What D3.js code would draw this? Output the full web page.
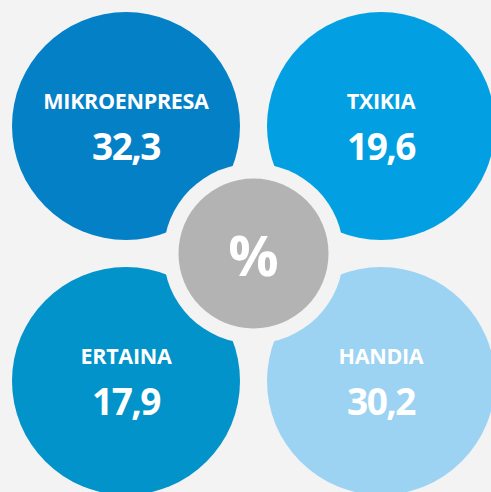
<!DOCTYPE html>
<html>
<head>
<meta charset="utf-8">
<script src="https://cdn.jsdelivr.net/npm/d3@7"></script>
<style>
  body { margin: 0; background: #f3f3f3; }
  svg { display: block; }
  text { font-family: "Open Sans", "Noto Sans", sans-serif; font-weight: 700; fill: #fff; }
</style>
</head>
<body>
<div class="chart"></div>
<script>
var labels = ["MIKROENPRESA", "TXIKIA", "ERTAINA", "HANDIA"];
var values = [32.3, 19.6, 17.9, 30.2];
var colors = ["#0480c7", "#02a0e2", "#0193c9", "#9cd3f3"];
var centerLabel = "%";

var w = 491, h = 492;

var svg = d3.select("div.chart")
            .append("svg")
            .attr("width", w)
            .attr("height", h);

// 2x2 grid of circles
var x = d3.scalePoint().domain([0, 1]).range([126, 381]);
var y = d3.scalePoint().domain([0, 1]).range([126, 381]);
var r = 114;

var fmt = function(v) { return d3.format(".1f")(v).replace(".", ","); };

var data = labels.map(function(l, i) {
  return { label: l, value: values[i], color: colors[i], col: i % 2, row: Math.floor(i / 2) };
});

var g = svg.selectAll(".bubble")
           .data(data)
           .enter()
           .append("g")
           .attr("class", "bubble")
           .attr("transform", function(d) { return "translate(" + x(d.col) + "," + y(d.row) + ")"; });

g.append("circle")
 .attr("r", r)
 .attr("fill", function(d) { return d.color; });

g.append("text")
 .attr("text-anchor", "middle")
 .attr("y", -17)
 .attr("font-size", 21.5)
 .attr("letter-spacing", -0.3)
 .text(function(d) { return d.label; });

g.append("text")
 .attr("text-anchor", "middle")
 .attr("y", 34)
 .attr("font-size", 37)
 .attr("letter-spacing", -1.5)
 .text(function(d) { return fmt(d.value); });

// center badge
var cx = (x(0) + x(1)) / 2, cy = (y(0) + y(1)) / 2;

svg.append("circle")
   .attr("cx", cx).attr("cy", cy)
   .attr("r", 90)
   .attr("fill", "#f3f3f3");

svg.append("circle")
   .attr("cx", cx).attr("cy", cy)
   .attr("r", 75)
   .attr("fill", "#b3b3b3");

svg.append("text")
   .attr("x", cx).attr("y", cy + 22)
   .attr("text-anchor", "middle")
   .attr("font-size", 56)
   .text(centerLabel);
</script>
</body>
</html>
